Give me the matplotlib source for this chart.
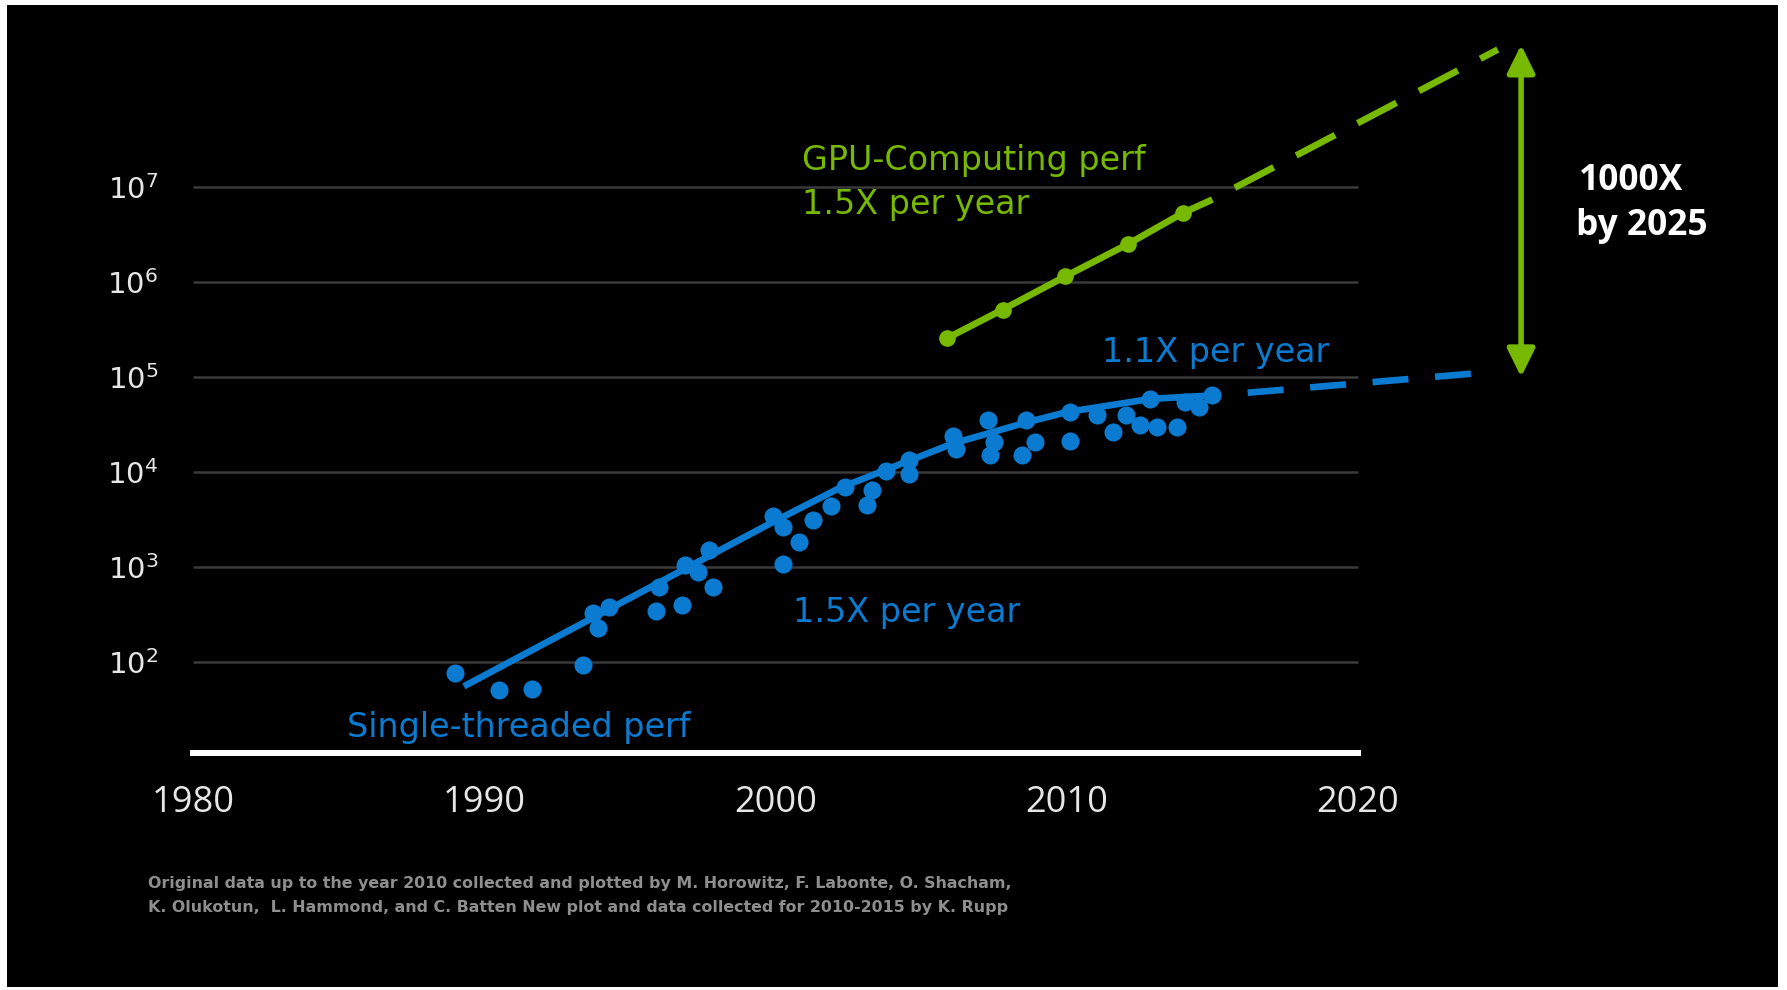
import matplotlib
matplotlib.use("Agg")
import matplotlib.pyplot as plt
from matplotlib.patches import Rectangle

# ---------------- data ----------------
single_years = [1989.0, 1990.5, 1991.65, 1993.4, 1993.75, 1993.9, 1994.3, 1995.9, 1996.0,
                1996.8, 1996.9, 1997.35, 1997.7, 1997.85, 1999.9, 2000.25, 2000.25, 2000.8,
                2001.3, 2001.9, 2002.4, 2003.15, 2003.3, 2003.8, 2004.6, 2004.6, 2006.1,
                2006.2, 2007.3, 2007.35, 2007.5, 2008.45, 2008.6, 2008.9, 2010.1, 2010.1,
                2011.05, 2011.6, 2012.05, 2012.5, 2012.85, 2013.1, 2013.8, 2014.05, 2014.55,
                2015.0]
single_perf = [76, 50, 52, 93, 324, 229, 380, 339, 617,
               398, 1047, 891, 1514, 617, 3467, 2630, 1072, 1820,
               3090, 4365, 6918, 4467, 6457, 10233, 13490, 9550, 23990,
               17380, 35480, 15140, 20890, 15140, 35480, 20890, 21380, 42660,
               39810, 26300, 39810, 30900, 58880, 29510, 29510, 54950, 47860,
               64570]

single_trend_years = [1989.3, 1999.9, 2002.2, 2004.6, 2006.1, 2008.6, 2010.0, 2012.9, 2015.3]
single_trend_perf = [55, 2950, 6760, 13180, 19950, 33110, 42660, 58880, 64570]
single_proj_years = [2015.3, 2024.1]
single_proj_perf = [64570, 109650]

gpu_years = [2005.9, 2007.8, 2009.95, 2012.1, 2014.0]
gpu_perf = [257000, 513000, 1148000, 2512000, 5370000]
gpu_trend_years = [2005.9, 2007.8, 2009.95, 2012.1, 2014.0, 2015.0]
gpu_trend_perf = [257000, 513000, 1148000, 2512000, 5370000, 7410000]
gpu_proj_years = [2015.0, 2024.8]
gpu_proj_perf = [7410000, 282000000]

gap_year = 2025.6
gap_low = 1e5
gap_high = 3.16e8

x_ticks = [1980, 1990, 2000, 2010, 2020]
x_tick_labels = ["1980", "1990", "2000", "2010", "2020"]
y_ticks = [1e2, 1e3, 1e4, 1e5, 1e6, 1e7]
y_tick_labels = [r"$10^{2}$", r"$10^{3}$", r"$10^{4}$", r"$10^{5}$", r"$10^{6}$", r"$10^{7}$"]

footnote_lines = [
    "Original data up to the year 2010 collected and plotted by M. Horowitz, F. Labonte, O. Shacham,",
    "K. Olukotun,  L. Hammond, and C. Batten New plot and data collected for 2010-2015 by K. Rupp",
]

# ---------------- style ----------------
BLUE = "#0a7bd0"
GREEN = "#76b900"
GRID = "#3a3a3a"
TICKC = "#e6e6e6"

plt.rcParams["font.family"] = ["DejaVu Sans"]
plt.rcParams["mathtext.fontset"] = "custom"
plt.rcParams["mathtext.rm"] = "Open Sans"
plt.rcParams["mathtext.it"] = "Open Sans"
plt.rcParams["mathtext.bf"] = "Open Sans:bold"
plt.rcParams["mathtext.default"] = "regular"

W, H = 1787, 990
fig = plt.figure(figsize=(W / 100, H / 100), dpi=100)
fig.patch.set_facecolor("white")
fig.patches.append(Rectangle((7 / W, 3 / H), (1778 - 7) / W, (985 - 3) / H,
                             transform=fig.transFigure, facecolor="black",
                             edgecolor="none", zorder=-1))

ax = fig.add_axes([193 / W, 237 / H, 1456.25 / W, 723 / H])
ax.set_facecolor("none")
ax.set_yscale("log")
ax.set_xlim(1980, 2030)
ax.set_ylim(10 ** 1.038, 10 ** 8.656)

for s in ["left", "right", "top"]:
    ax.spines[s].set_visible(False)
ax.spines["bottom"].set_color("white")
ax.spines["bottom"].set_linewidth(4.3)
ax.spines["bottom"].set_bounds(1980, 2020)

ax.set_xticks(x_ticks)
ax.set_xticklabels(x_tick_labels, fontfamily="Open Sans", fontsize=26, color=TICKC)
ax.set_yticks(y_ticks)
ax.set_yticklabels(y_tick_labels, fontsize=21, color=TICKC)
ax.minorticks_off()
ax.tick_params(axis="x", length=0, pad=23)
ax.tick_params(axis="y", length=0, pad=25)

# grid
ax.hlines(y_ticks, 1980, 2020, colors=GRID, lw=1.8, zorder=1)

# single-threaded
ax.plot(single_trend_years, single_trend_perf, color=BLUE, lw=4.8,
        solid_joinstyle="round", solid_capstyle="butt", zorder=3)
ax.plot(single_years, single_perf, "o", ms=13, color=BLUE, mec="none", zorder=3)
ax.plot(single_proj_years, single_proj_perf, color=BLUE, lw=4.8,
        ls=(5.4, (5.4, 4.0)), dash_capstyle="butt", zorder=3, clip_on=False)

# GPU
ax.plot(gpu_trend_years, gpu_trend_perf, color=GREEN, lw=4.8,
        solid_capstyle="butt", zorder=3)
ax.plot(gpu_years, gpu_perf, "o", ms=12, color=GREEN, mec="none", zorder=3)
ax.plot(gpu_proj_years, gpu_proj_perf, color=GREEN, lw=4.8,
        ls=(6.6, (6.6, 3.8)), dash_capstyle="butt", zorder=3, clip_on=False)

# 1000x arrow
ax.annotate("", xy=(gap_year, gap_high), xytext=(gap_year, gap_low),
            arrowprops=dict(arrowstyle="<|-|>,head_length=0.85,head_width=0.42",
                            mutation_scale=20, color=GREEN, lw=4.0,
                            shrinkA=0, shrinkB=0),
            annotation_clip=False)

# annotations
ax.text(2000.91, 10 ** 7.18, "GPU-Computing perf", color=GREEN, fontsize=24,
        ha="left", va="baseline")
ax.text(2000.91, 10 ** 6.72, "1.5X per year", color=GREEN, fontsize=24,
        ha="left", va="baseline")
ax.text(2011.2, 10 ** 5.16, "1.1X per year", color=BLUE, fontsize=24,
        ha="left", va="baseline")
ax.text(2000.6, 10 ** 2.42, "1.5X per year", color=BLUE, fontsize=24,
        ha="left", va="baseline")
ax.text(1985.3, 10 ** 1.207, "Single-threaded perf", color=BLUE, fontsize=24,
        ha="left", va="baseline")
ax.text(2027.6, 10 ** 6.97, "1000X", color="white", fontsize=25.5,
        fontfamily="Open Sans", fontweight="bold", ha="left", va="baseline",
        clip_on=False)
ax.text(2027.5, 10 ** 6.50, "by 2025", color="white", fontsize=25.5,
        fontfamily="Open Sans", fontweight="bold", ha="left", va="baseline",
        clip_on=False)

fig.text(148 / W, 1 - 888 / H, footnote_lines[0], color="#8e8e8e", fontsize=11.4,
         fontweight="bold", ha="left", va="baseline")
fig.text(148 / W, 1 - 912 / H, footnote_lines[1], color="#8e8e8e", fontsize=11.4,
         fontweight="bold", ha="left", va="baseline")

fig.savefig("out.png", dpi=100, facecolor=fig.get_facecolor())
